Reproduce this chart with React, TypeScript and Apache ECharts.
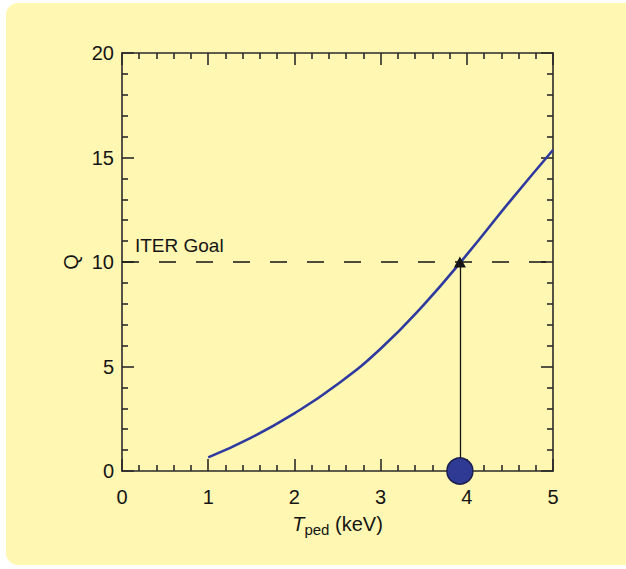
import React, { useEffect, useRef } from "react";
import * as echarts from "echarts";

const tempKeV = [1, 1.5, 2, 2.5, 3, 3.5, 4, 4.5, 5];
const qValues = [0.65, 1.6, 2.76, 4.15, 5.85, 7.95, 10.35, 12.9, 15.36];
const iterGoal = 10;
const goalTemp = 3.92;
const xTicks = [0, 1, 2, 3, 4, 5];
const yTicks = [0, 5, 10, 15, 20];

const FONT = "Liberation Sans, Arial, Helvetica, sans-serif";
const INK = "#151515";
const AXIS = "#2a2a2a";
const CURVE = "#2F3A9E";

export default function App() {
  const ref = useRef<HTMLDivElement>(null);
  useEffect(() => {
    if (!ref.current) return;
    const chart = echarts.init(ref.current, undefined, { renderer: "svg" });
    const axisCommon = (show: boolean) => ({
      axisLine: { show: true, onZero: false, lineStyle: { color: AXIS, width: 1.6 } },
      axisTick: { show: true, inside: true, length: 12, lineStyle: { color: AXIS, width: 1.6 } },
      minorTick: { show: true, splitNumber: 5, length: 6, lineStyle: { color: AXIS, width: 1.6 } },
      splitLine: { show: false },
      axisLabel: { show, color: INK, fontSize: 20, fontFamily: FONT },
    });
    chart.setOption({
      animation: false,
      backgroundColor: "#ffffff",
      graphic: [
        {
          type: "rect",
          z: -10,
          shape: { x: 6, y: 3, width: 660, height: 562, r: 12 },
          style: { fill: "#FFF7B2" },
          silent: true,
        },
      ],
      grid: { left: 122, top: 53, width: 431, height: 418, containLabel: false },
      xAxis: [
        {
          type: "value",
          position: "bottom",
          min: xTicks[0],
          max: xTicks[xTicks.length - 1],
          interval: 1,
          ...axisCommon(true),
          axisLabel: { show: true, color: INK, fontSize: 20, fontFamily: FONT, margin: 16 },
          name: "{i|T}{sub|ped} (keV)",
          nameLocation: "middle",
          nameGap: 40,
          nameTextStyle: {
            color: INK,
            fontSize: 20,
            fontFamily: FONT,
            rich: {
              i: { fontStyle: "italic", fontSize: 20, fontFamily: FONT, color: INK },
              sub: { fontSize: 15, fontFamily: FONT, color: INK, padding: [11, 0, 0, 0] },
            },
          },
        },
        {
          type: "value",
          position: "top",
          min: xTicks[0],
          max: xTicks[xTicks.length - 1],
          interval: 1,
          ...axisCommon(false),
        },
      ],
      yAxis: [
        {
          type: "value",
          position: "left",
          min: yTicks[0],
          max: yTicks[yTicks.length - 1],
          interval: 5,
          ...axisCommon(true),
          axisLabel: { show: true, color: INK, fontSize: 20, fontFamily: FONT, margin: 8 },
          name: "Q",
          nameLocation: "middle",
          nameGap: 40,
          nameTextStyle: { color: INK, fontSize: 20, fontFamily: FONT },
        },
        {
          type: "value",
          position: "right",
          min: yTicks[0],
          max: yTicks[yTicks.length - 1],
          interval: 5,
          ...axisCommon(false),
        },
      ],
      series: [
        {
          type: "line",
          data: [
            [xTicks[0], iterGoal],
            [xTicks[xTicks.length - 1], iterGoal],
          ],
          symbol: "none",
          lineStyle: { color: INK, width: 1.3, type: [17, 20] },
          silent: true,
          z: 3,
        },
        {
          type: "line",
          data: tempKeV.map((t, i) => [t, qValues[i]]),
          smooth: 0.5,
          symbol: "none",
          lineStyle: { color: CURVE, width: 2.6 },
          z: 4,
          markLine: {
            silent: true,
            symbol: ["none", "triangle"],
            symbolSize: [12, 11],
            label: { show: false },
            lineStyle: { color: INK, width: 1.3, type: "solid" },
            data: [[{ coord: [goalTemp, 0] }, { coord: [goalTemp, iterGoal] }]],
          },
        },
        {
          type: "scatter",
          data: [[0.15, 10.8]],
          symbolSize: 0,
          silent: true,
          z: 5,
          itemStyle: { opacity: 1 },
          label: {
            show: true,
            position: "right",
            distance: 0,
            formatter: "ITER Goal",
            color: INK,
            opacity: 1,
            fontSize: 19,
            fontFamily: FONT,
          },
        },
        {
          type: "scatter",
          data: [[goalTemp, 0]],
          symbolSize: 26,
          clip: false,
          z: 10,
          itemStyle: { color: "#2E3A94", borderColor: "#1A1F4F", borderWidth: 1.5, opacity: 1 },
        },
      ],
    });
    return () => chart.dispose();
  }, []);
  return (
    <div
      ref={ref}
      style={{ position: "fixed", left: 0, top: 0, width: 626, height: 569 }}
    />
  );
}
